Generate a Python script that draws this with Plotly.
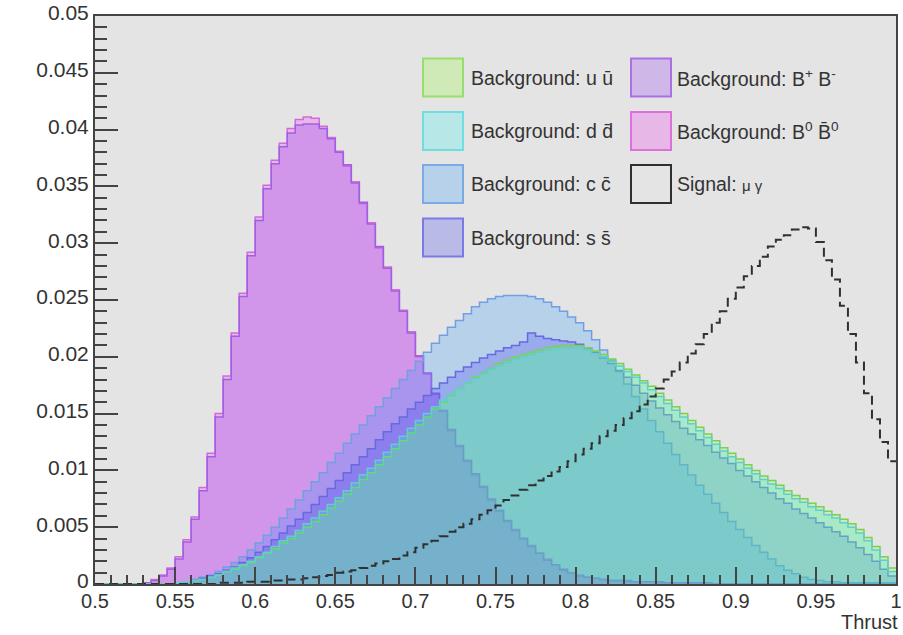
import numpy as np
import plotly.graph_objects as go

# Thrust histograms: 100 bins between 0.5 and 1.0, unit-normalised
x_lo, x_hi, n_bins = 0.5, 1.0, 100

uu_bkg = [0, 0, 0, 0, 0, 0, 0, 0, 0, 0,
          0.0001, 0.0002, 0.0003, 0.0004, 0.0006, 0.0008, 0.0011, 0.0013, 0.0016, 0.0019,
          0.0023, 0.0027, 0.0031, 0.0036, 0.0040, 0.0045, 0.0050, 0.0055, 0.0061, 0.0067,
          0.0073, 0.0079, 0.0085, 0.0092, 0.0098, 0.0105, 0.0112, 0.0119, 0.0126, 0.0133,
          0.0140, 0.0147, 0.0154, 0.0160, 0.0166, 0.0172, 0.0177, 0.0182, 0.0186, 0.0190,
          0.0194, 0.0197, 0.0200, 0.0202, 0.0204, 0.0206, 0.0208, 0.0209, 0.0210, 0.0210,
          0.0210, 0.0208, 0.0205, 0.0202, 0.0198, 0.0194, 0.0189, 0.0184, 0.0179, 0.0174,
          0.0168, 0.0162, 0.0156, 0.0150, 0.0144, 0.0138, 0.0132, 0.0126, 0.0120, 0.0115,
          0.0110, 0.0105, 0.0100, 0.0095, 0.0091, 0.0087, 0.0082, 0.0078, 0.0075, 0.0071,
          0.0068, 0.0064, 0.0061, 0.0057, 0.0053, 0.0048, 0.0041, 0.0033, 0.0024, 0.0014]

dd_bkg = [0, 0, 0, 0, 0, 0, 0, 0, 0, 0,
          0.0001, 0.0002, 0.0003, 0.0004, 0.0006, 0.0008, 0.0011, 0.0014, 0.0017, 0.0020,
          0.0024, 0.0028, 0.0033, 0.0038, 0.0042, 0.0047, 0.0053, 0.0058, 0.0064, 0.0070,
          0.0076, 0.0082, 0.0089, 0.0096, 0.0102, 0.0109, 0.0116, 0.0123, 0.0130, 0.0137,
          0.0144, 0.0150, 0.0156, 0.0162, 0.0167, 0.0172, 0.0177, 0.0181, 0.0185, 0.0189,
          0.0192, 0.0195, 0.0198, 0.0200, 0.0202, 0.0204, 0.0206, 0.0207, 0.0208, 0.0208,
          0.0208, 0.0206, 0.0203, 0.0200, 0.0196, 0.0192, 0.0187, 0.0182, 0.0177, 0.0171,
          0.0165, 0.0159, 0.0153, 0.0147, 0.0141, 0.0135, 0.0129, 0.0123, 0.0117, 0.0112,
          0.0107, 0.0102, 0.0097, 0.0092, 0.0088, 0.0084, 0.0079, 0.0075, 0.0072, 0.0068,
          0.0065, 0.0061, 0.0058, 0.0054, 0.0050, 0.0045, 0.0038, 0.0030, 0.0021, 0.0011]

cc_bkg = [0, 0, 0, 0, 0, 0, 0, 0, 0, 0,
          0.0001, 0.0002, 0.0004, 0.0006, 0.0008, 0.0011, 0.0015, 0.0019, 0.0024, 0.0030,
          0.0036, 0.0043, 0.0050, 0.0058, 0.0066, 0.0074, 0.0082, 0.0090, 0.0098, 0.0107,
          0.0115, 0.0124, 0.0132, 0.0140, 0.0148, 0.0156, 0.0164, 0.0172, 0.0180, 0.0188,
          0.0196, 0.0204, 0.0212, 0.0219, 0.0226, 0.0232, 0.0238, 0.0244, 0.0248, 0.0251,
          0.0253, 0.0254, 0.0254, 0.0254, 0.0253, 0.0251, 0.0248, 0.0244, 0.0240, 0.0235,
          0.0230, 0.0223, 0.0215, 0.0206, 0.0197, 0.0187, 0.0176, 0.0165, 0.0154, 0.0144,
          0.0134, 0.0124, 0.0114, 0.0105, 0.0096, 0.0087, 0.0079, 0.0071, 0.0063, 0.0055,
          0.0048, 0.0041, 0.0034, 0.0028, 0.0022, 0.0016, 0.0012, 0.0009, 0.0006, 0.0004,
          0.0003, 0.0002, 0.0002, 0.0001, 0.0001, 0.0001, 0.0001, 0.0001, 0.0001, 0.0001]

ss_bkg = [0, 0, 0, 0, 0, 0, 0, 0, 0, 0,
          0.0001, 0.0002, 0.0003, 0.0005, 0.0007, 0.0009, 0.0012, 0.0015, 0.0019, 0.0023,
          0.0028, 0.0033, 0.0039, 0.0045, 0.0051, 0.0057, 0.0063, 0.0070, 0.0077, 0.0084,
          0.0091, 0.0098, 0.0105, 0.0112, 0.0119, 0.0127, 0.0134, 0.0141, 0.0147, 0.0154,
          0.0160, 0.0166, 0.0172, 0.0177, 0.0182, 0.0187, 0.0191, 0.0195, 0.0199, 0.0202,
          0.0205, 0.0208, 0.0210, 0.0213, 0.0221, 0.0218, 0.0216, 0.0215, 0.0214, 0.0213,
          0.0211, 0.0208, 0.0204, 0.0199, 0.0194, 0.0188, 0.0182, 0.0175, 0.0168, 0.0161,
          0.0155, 0.0149, 0.0143, 0.0137, 0.0132, 0.0127, 0.0122, 0.0116, 0.0111, 0.0106,
          0.0100, 0.0095, 0.0090, 0.0085, 0.0080, 0.0075, 0.0071, 0.0066, 0.0062, 0.0058,
          0.0054, 0.0050, 0.0046, 0.0042, 0.0037, 0.0032, 0.0026, 0.0020, 0.0013, 0.0007]

bpbm_bkg = [0, 0, 0, 0, 0, 0, 0.0001, 0.0003, 0.0007, 0.0013,
            0.0022, 0.0037, 0.0057, 0.0082, 0.0112, 0.0147, 0.0180, 0.0218, 0.0253, 0.0289,
            0.0320, 0.0348, 0.0370, 0.0385, 0.0397, 0.0404, 0.0405, 0.0405, 0.0401, 0.0392,
            0.0380, 0.0369, 0.0353, 0.0336, 0.0317, 0.0297, 0.0278, 0.0258, 0.0240, 0.0221,
            0.0201, 0.0185, 0.0168, 0.0152, 0.0136, 0.0121, 0.0108, 0.0097, 0.0085, 0.0074,
            0.0065, 0.0056, 0.0047, 0.0040, 0.0033, 0.0027, 0.0021, 0.0017, 0.0013, 0.0010,
            0.0007, 0.0006, 0.0005, 0.0004, 0.0003, 0.0003, 0.0003, 0.0002, 0.0002, 0.0002,
            0.0002, 0.0001, 0.0001, 0.0001, 0.0001, 0.0001, 0.0001, 0, 0, 0,
            0, 0, 0, 0, 0, 0, 0, 0, 0, 0,
            0, 0, 0, 0, 0, 0, 0, 0, 0, 0]

b0b0_bkg = [0, 0, 0, 0, 0, 0, 0.0001, 0.0004, 0.0008, 0.0014,
            0.0024, 0.0039, 0.0059, 0.0085, 0.0115, 0.0150, 0.0183, 0.0221, 0.0256, 0.0292,
            0.0323, 0.0351, 0.0373, 0.0388, 0.0401, 0.0409, 0.0411, 0.0410, 0.0403, 0.0393,
            0.0381, 0.0368, 0.0354, 0.0335, 0.0318, 0.0296, 0.0279, 0.0259, 0.0241, 0.0222,
            0.0200, 0.0186, 0.0167, 0.0153, 0.0135, 0.0122, 0.0109, 0.0096, 0.0086, 0.0075,
            0.0064, 0.0055, 0.0048, 0.0040, 0.0034, 0.0027, 0.0022, 0.0017, 0.0012, 0.0010,
            0.0008, 0.0006, 0.0005, 0.0004, 0.0003, 0.0003, 0.0002, 0.0002, 0.0002, 0.0002,
            0.0001, 0.0001, 0.0001, 0.0001, 0.0001, 0.0001, 0, 0, 0, 0,
            0, 0, 0, 0, 0, 0, 0, 0, 0, 0,
            0, 0, 0, 0, 0, 0, 0, 0, 0, 0]

signal_mugamma = [0, 0, 0, 0, 0, 0, 0, 0, 0, 0,
                  0, 0, 0, 0, 0, 0.0001, 0.0001, 0.0001, 0.0001, 0.0002,
                  0.0002, 0.0002, 0.0003, 0.0003, 0.0004, 0.0004, 0.0005, 0.0006, 0.0007, 0.0008,
                  0.0010, 0.0011, 0.0012, 0.0014, 0.0016, 0.0018, 0.0020, 0.0022, 0.0025, 0.0028,
                  0.0032, 0.0035, 0.0038, 0.0042, 0.0046, 0.0050, 0.0053, 0.0057, 0.0061, 0.0065,
                  0.0069, 0.0074, 0.0078, 0.0083, 0.0087, 0.0091, 0.0095, 0.0099, 0.0103, 0.0108,
                  0.0114, 0.0119, 0.0124, 0.0130, 0.0135, 0.0140, 0.0146, 0.0152, 0.0158, 0.0165,
                  0.0172, 0.0180, 0.0187, 0.0195, 0.0203, 0.0211, 0.0220, 0.0230, 0.0240, 0.0251,
                  0.0261, 0.0271, 0.0280, 0.0288, 0.0297, 0.0303, 0.0307, 0.0312, 0.0314, 0.0313,
                  0.0301, 0.0285, 0.0268, 0.0245, 0.0220, 0.0195, 0.0168, 0.0145, 0.0125, 0.0108]

labels = ["Background: u ū", "Background: d d̄", "Background: c c̄", "Background: s s̄",
          "Background: B<sup>+</sup> B<sup>-</sup>", "Background: B<sup>0</sup> B̄<sup>0</sup>",
          "Signal: <span style='font-size:15px'>μ γ</span>"]

edges = np.linspace(x_lo, x_hi, n_bins + 1)

# (values, label, fill rgba, line colour); drawn in this order
hists = [
    (b0b0_bkg, labels[5], "rgba(241,49,241,0.25)", "rgb(214,104,222)"),
    (bpbm_bkg, labels[4], "rgba(145,49,241,0.25)", "rgb(160,96,228)"),
    (cc_bkg, labels[2], "rgba(51,153,255,0.25)", "rgb(112,160,226)"),
    (ss_bkg, labels[3], "rgba(60,60,240,0.25)", "rgb(104,104,226)"),
    (uu_bkg, labels[0], "rgba(145,249,49,0.25)", "rgb(122,208,80)"),
    (dd_bkg, labels[1], "rgba(49,241,241,0.25)", "rgb(96,206,206)"),
]

fig = go.Figure()
for vals, name, fc, lc in hists:
    y = list(vals) + [vals[-1]]
    fig.add_trace(go.Scatter(x=edges, y=y, mode="lines", line_shape="hv",
                             fill="tozeroy", fillcolor=fc,
                             line=dict(color=lc, width=1.5), name=name,
                             showlegend=False, hoverinfo="skip"))

sig_y = list(signal_mugamma) + [signal_mugamma[-1]]
fig.add_trace(go.Scatter(x=edges, y=sig_y, mode="lines", line_shape="hv",
                         line=dict(color="#303030", width=2, dash="9px,5px"),
                         name=labels[6], showlegend=False, hoverinfo="skip"))

# Plot frame geometry in pixels (for the hand-drawn legend)
W, H = 903, 635
ml, mr, mt, mb = 95, 7, 16, 51
pw, ph = W - ml - mr, H - mt - mb


def px(xp):
    return (xp - ml) / pw


def py(yp):
    return (H - mb - yp) / ph


legend_items = [
    (labels[0], "rgba(145,249,49,0.25)", "rgb(150,222,110)", 0, 0),
    (labels[1], "rgba(49,241,241,0.25)", "rgb(110,222,222)", 0, 1),
    (labels[2], "rgba(51,153,255,0.25)", "rgb(122,170,230)", 0, 2),
    (labels[3], "rgba(60,60,240,0.25)", "rgb(122,122,230)", 0, 3),
    (labels[4], "rgba(145,49,241,0.25)", "rgb(172,112,230)", 1, 0),
    (labels[5], "rgba(241,49,241,0.25)", "rgb(222,112,222)", 1, 1),
    (labels[6], "rgba(0,0,0,0)", "#303030", 1, 2),
]
col_box_x = [423, 631]
col_text_x = [469, 675]
row_y = [77.5, 131, 184, 237.5]
text_font = "Liberation Sans, Arial, sans-serif"
shapes = []
annotations = []
for text, fc, lc, col, row in legend_items:
    x0 = col_box_x[col]
    yc = row_y[row]
    shapes.append(dict(type="rect", xref="paper", yref="paper",
                       x0=px(x0), x1=px(x0 + 40), y0=py(yc + 19), y1=py(yc - 19),
                       fillcolor=fc, line=dict(color=lc, width=2)))
    annotations.append(dict(xref="paper", yref="paper", x=px(col_text_x[col]), y=py(yc),
                            xanchor="left", yanchor="middle", showarrow=False, text=text,
                            font=dict(size=19.5, color="#333333", family=text_font)))

annotations.append(dict(xref="paper", yref="paper", x=1.0, y=py(H - 1), xanchor="right",
                        yanchor="bottom", showarrow=False, text="Thrust", xshift=3,
                        borderpad=0,
                        font=dict(size=20, color="#333333", family=text_font)))

x_font = dict(size=20, color="#333333", family=text_font)
y_font = dict(size=21, color="#333333", family=text_font)
fig.update_layout(
    width=W, height=H,
    margin=dict(l=ml, r=mr, t=mt, b=mb, autoexpand=False),
    paper_bgcolor="white", plot_bgcolor="#e4e4e4",
    shapes=shapes, annotations=annotations,
    xaxis=dict(range=[x_lo, x_hi], tick0=0.5, dtick=0.05, ticks="inside", ticklen=17,
               tickwidth=1.5, tickcolor="#444444", showline=True, linecolor="#444444",
               linewidth=2, mirror=True, showgrid=False, zeroline=False, tickfont=x_font,
               automargin=False, ticklabelstandoff=-2,
               minor=dict(dtick=0.01, ticks="inside", ticklen=9, tickwidth=1.5,
                          tickcolor="#444444", showgrid=False)),
    yaxis=dict(range=[0, 0.05], tick0=0, dtick=0.005, ticks="inside", ticklen=23,
               tickwidth=1.5, tickcolor="#444444", showline=True, linecolor="#444444",
               linewidth=2, mirror=True, showgrid=False, zeroline=False, tickfont=y_font,
               ticklabelshift=-3, automargin=False,
               minor=dict(dtick=0.001, ticks="inside", ticklen=12, tickwidth=1.5,
                          tickcolor="#444444", showgrid=False)),
)

fig.write_html("out.html")
